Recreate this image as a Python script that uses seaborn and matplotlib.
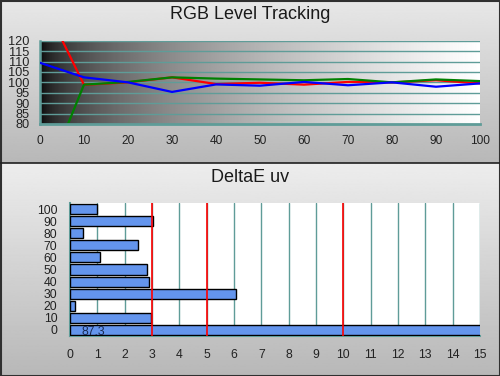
import numpy as np
import pandas as pd
import matplotlib
matplotlib.use("Agg")
import matplotlib.pyplot as plt
from matplotlib.patches import Rectangle
from matplotlib.lines import Line2D
import seaborn as sns

# ---- data ----
levels = [0, 10, 20, 30, 40, 50, 60, 70, 80, 90, 100]
red_vals = [142, 98.8, 100.0, 102.4, 99.2, 99.8, 98.9, 100.2, 100.0, 101.0, 99.5]
green_vals = [47, 98.9, 100.2, 102.4, 101.8, 101.4, 101.0, 101.6, 100.0, 101.4, 100.6]
blue_vals = [109.4, 102.4, 100.0, 95.4, 99.0, 98.4, 100.2, 98.6, 100.0, 97.9, 99.5]

de_labels = ["0", "10", "20", "30", "40", "50", "60", "70", "80", "90", "100"]
de_values = [87.3, 2.95, 0.2, 6.09, 2.9, 2.83, 1.11, 2.5, 0.49, 3.05, 0.98]
limit_lines = [3, 5, 10]

top_title = "RGB Level Tracking"
bottom_title = "DeltaE uv"

# ---- style ----
sns.set_style("white")
plt.rcParams["font.family"] = ["Liberation Sans", "DejaVu Sans"]
teal = "#5f9c98"
W, H = 500, 376
fig = plt.figure(figsize=(W / 100, H / 100), dpi=100)

split = 163 / H
# panel backgrounds
for (y0, h, c_top, c_bot) in [(1 - split, split, 0.91, 0.72), (0, 1 - split, 0.93, 0.72)]:
    bg = fig.add_axes([0, y0, 1, h], zorder=-10)
    g = np.linspace(c_top, c_bot, 256).reshape(-1, 1)
    bg.imshow(g, cmap="gray", vmin=0, vmax=1, aspect="auto", extent=[0, 1, 0, 1])
    bg.set_axis_off()

fig.add_artist(Line2D([0, 1], [1 - split, 1 - split], transform=fig.transFigure, color="#202020", lw=1.2))
fig.add_artist(Rectangle((0.001, 0.001), 0.998, 0.997, transform=fig.transFigure, fill=False, ec="#303030", lw=1.5))

fig.text(0.5, 1 - 14.5 / H, top_title, ha="center", va="center", fontsize=13, color="#1a1a1a")
fig.text(0.5, 1 - 177.5 / H, bottom_title, ha="center", va="center", fontsize=13, color="#1a1a1a")

# ---- top chart ----
ax1 = fig.add_axes([40 / W, 1 - 124 / H, 440 / W, 83.3 / H])
xg = np.linspace(0, 1, 512)
grad = np.tile(xg ** 0.5, (2, 1))
ax1.imshow(grad, cmap="gray", vmin=0, vmax=1, aspect="auto", extent=[0, 100, 80, 120], zorder=0)

df = pd.DataFrame({
    "level": levels * 3,
    "value": red_vals + green_vals + blue_vals,
    "channel": ["R"] * len(levels) + ["G"] * len(levels) + ["B"] * len(levels),
})
sns.lineplot(data=df, x="level", y="value", hue="channel",
             palette={"R": "#ff0000", "G": "#008000", "B": "#0000ff"},
             hue_order=["R", "G", "B"], linewidth=1.6, legend=False, ax=ax1, zorder=3)
ax1.set_xlim(0, 100)
ax1.set_ylim(80, 120)
ax1.set_xticks(range(0, 101, 10))
ax1.set_yticks(range(80, 121, 5))
for yv in range(85, 121, 5):
    ax1.axhline(yv, color=teal, lw=1.0, zorder=2)
ax1.set_xlabel("")
ax1.set_ylabel("")
for s in ["top", "right"]:
    ax1.spines[s].set_visible(False)
ax1.spines["left"].set_color(teal)
ax1.spines["left"].set_linewidth(1.8)
ax1.spines["bottom"].set_color(teal)
ax1.spines["bottom"].set_linewidth(2)
ax1.spines["bottom"].set_zorder(4)
ax1.tick_params(axis="x", direction="inout", length=8, width=1.6, color=teal, pad=4,
                labelsize=8.6, labelcolor="#222222")
ax1.tick_params(axis="y", direction="inout", length=6, width=1.3, color=teal, pad=4.5,
                labelsize=9.2, labelcolor="#222222")

# ---- bottom chart ----
ax2 = fig.add_axes([70 / W, 1 - 336 / H, 410 / W, 133 / H])
ax2.set_facecolor("white")
order = de_labels[::-1]
sns.barplot(x=de_values, y=de_labels, order=order, orient="h", color="#6495ed",
            edgecolor="black", linewidth=1.0, width=0.83, saturation=1, ax=ax2, zorder=3)
ax2.set_xlim(0, 15)
ax2.set_ylim(10.5, -0.5)
ax2.set_xticks(range(0, 16))
for xv in range(1, 16):
    ax2.axvline(xv, color=teal, lw=1.0, zorder=1)
for xv in limit_lines:
    ax2.axvline(xv, color="#ff0000", lw=1.2, zorder=4)
ax2.set_yticks(np.arange(-0.5, 11, 1), minor=True)
ax2.tick_params(axis="y", which="major", length=0, pad=9, labelsize=8.8, labelcolor="#222222")
ax2.tick_params(axis="y", which="minor", direction="inout", length=6, width=1.3, color=teal)
ax2.tick_params(axis="x", direction="inout", length=7, width=1.5, color=teal, pad=5.5,
                labelsize=8.8, labelcolor="#222222")
ax2.set_xlabel("")
ax2.set_ylabel("")
for s in ["top", "right"]:
    ax2.spines[s].set_visible(False)
ax2.spines["left"].set_color(teal)
ax2.spines["left"].set_linewidth(1.5)
ax2.spines["bottom"].set_color(teal)
ax2.spines["bottom"].set_linewidth(1.5)
idx0 = order.index("0")
ax2.text(0.85, idx0 + 0.2, f"{de_values[0]:.1f}", ha="center", va="center",
         fontsize=8.8, color="#1a2a50", zorder=6)

fig.savefig("out.png", dpi=100)
